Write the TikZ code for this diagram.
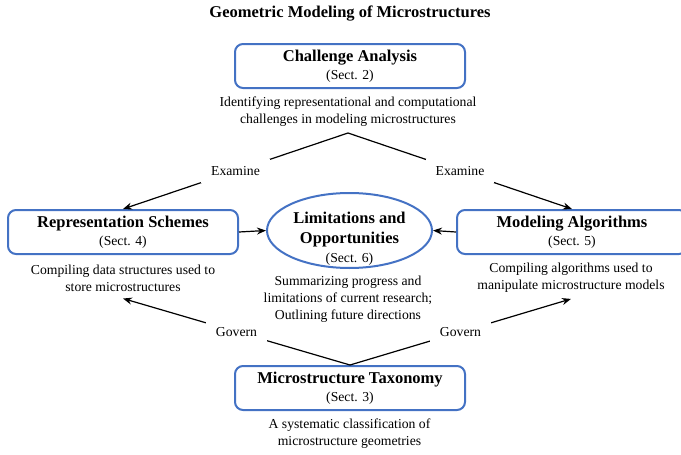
\documentclass[tikz,border=0pt]{standalone}
\usepackage{fontspec}
\setmainfont{Liberation Serif}
\usepackage{tikz}
\usetikzlibrary{arrows.meta}
\usetikzlibrary{positioning,shapes.geometric}
\usepackage{xcolor}
\definecolor{boxblue}{RGB}{68,114,196}
\newcommand{\headfont}{\fontsize{16.5}{20}\selectfont\bfseries}
\tikzset{
    section/.style={
        draw=boxblue,
        line width=2pt,
        rounded corners=8pt,
        minimum width=230pt,
        minimum height=44pt,
        inner sep=2pt,
        align=center,
        font=\fontsize{13.7}{18}\selectfont
    },
    summary/.style={
        draw=boxblue,
        line width=2pt,
        ellipse,
        minimum width=165pt,
        minimum height=75pt,
        inner sep=0pt,
        font=\fontsize{13.7}{19.5}\selectfont
    },
    desc/.style={
        align=center,
        inner xsep=2pt,
        inner ysep=6.5pt,
        font=\fontsize{13.7}{17}\selectfont
    },
    verb/.style={
        fill=white,
        inner xsep=10pt,
        inner ysep=7pt,
        font=\fontsize{13.7}{17}\selectfont
    },
    link/.style={
        draw,
        line width=1.2pt,
        -{Stealth[length=9pt, width=7pt]}
    }
}

\begin{document}
\begin{tikzpicture}[x=1pt, y=-1pt]
    \useasboundingbox (0,0) rectangle (681,455);

    % Title
    \node[font=\headfont] (title) at (350,14) {Geometric Modeling of Microstructures};

    % Sections
    \node[section] (challenge) at (350,66) {{\headfont Challenge Analysis}\\(Sect. 2)};
    \node[section] (rep) at (123,232) {{\headfont Representation Schemes}\\(Sect. 4)};
    \node[section] (model) at (572,232) {{\headfont Modeling Algorithms}\\(Sect. 5)};
    \node[section] (taxonomy) at (350,388) {{\headfont Microstructure Taxonomy}\\(Sect. 3)};
    % text sits a little low inside the ellipse
    \node[summary] (outlook) at (349.5,230.5) {\raisebox{-12.5pt}[26pt][26pt]{%
        \begin{tabular}{@{}c@{}}
            {\headfont Limitations and}\\{\headfont Opportunities}\\(Sect. 6)
        \end{tabular}}};

    % Descriptions
    \node[desc] (challengeDesc) at (348,111.5) {Identifying representational and computational\\challenges in modeling microstructures};
    \node[desc] (repDesc) at (123,278.5) {Compiling data structures used to\\store microstructures};
    \node[desc] (modelDesc) at (571,277.5) {Compiling algorithms used to\\manipulate microstructure models};
    \node[desc] (outlookDesc) at (348,299) {Summarizing progress and\\limitations of current research;\\Outlining future directions};
    \node[desc] (taxonomyDesc) at (349.5,433.5) {A systematic classification of\\microstructure geometries};

    % Connections
    \draw[link] (challengeDesc.south) -- node[verb] {Examine} (rep.north);
    \draw[link] (challengeDesc.south) -- node[verb] {Examine} (model.north);
    \draw[link] (taxonomy.north) -- node[verb] {Govern} (repDesc.south);
    \draw[link] (taxonomy.north) -- node[verb] {Govern} (modelDesc.south);
    \draw[link] (rep.east) -- (outlook.west);
    \draw[link] (model.west) -- (outlook.east);
\end{tikzpicture}
\end{document}
